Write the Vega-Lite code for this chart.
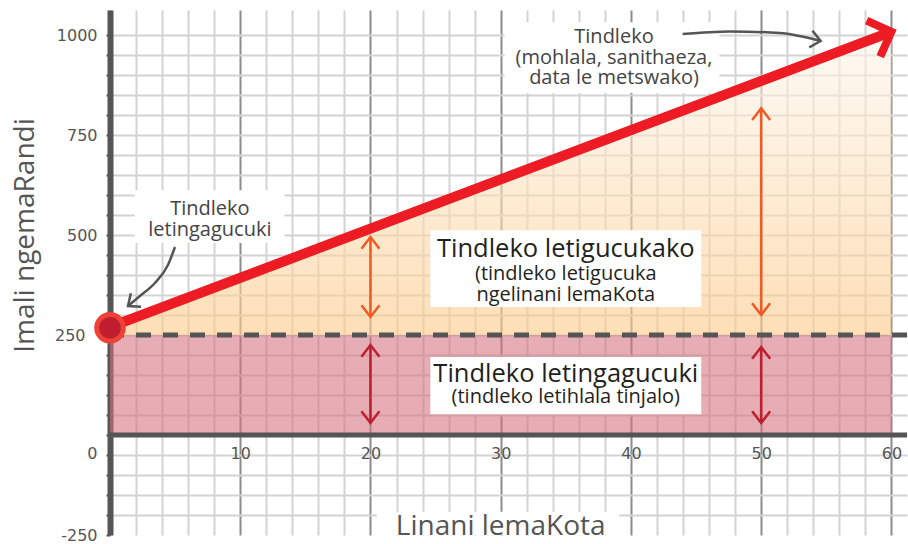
{
  "$schema": "https://vega.github.io/schema/vega-lite/v6.json",
  "width": 797,
  "height": 525,
  "autosize": {"type": "none"},
  "padding": {"left": 110, "top": 10, "right": 1, "bottom": 9},
  "background": "#ffffff",
  "config": {
    "view": {"stroke": null},
    "axis": {"labelOverlap": false, "labelFlush": false, "labelBound": false, "labelFont": "DejaVu Sans", "labelFontSize": 16, "labelColor": "#555555", "gridWidth": 2, "tickCount": 100},
    "axisX": {"domain": false, "ticks": false, "labelAngle": 0},
    "axisY": {"domainColor": "#555555", "domainWidth": 6, "tickColor": "#555555", "tickSize": 4, "tickWidth": 2, "gridColor": "#d3d3d3"}
  },
  "datasets": {
    "fixedBand": [{"from": 0, "to": 60, "base": 0, "fixed": 250}],
    "totalCost": [{"units": 0, "cost": 270}, {"units": 60, "cost": 1008}],
    "boxes": [
      {"x1": 30.3, "x2": 46.8, "y1": 855, "y2": 1032},
      {"x1": 1.9, "x2": 13.4, "y1": 480, "y2": 612},
      {"x1": 24.6, "x2": 45.4, "y1": 320, "y2": 512},
      {"x1": 24.6, "x2": 45.4, "y1": 52, "y2": 195},
      {"x1": 20.5, "x2": 39.1, "y1": -250, "y2": -192}
    ],
    "spans": [
      {"units": 20, "kind": "variable", "top": 495, "bottom": 295},
      {"units": 20, "kind": "fixed", "top": 225, "bottom": 30},
      {"units": 50, "kind": "variable", "top": 817, "bottom": 300},
      {"units": 50, "kind": "fixed", "top": 220, "bottom": 30}
    ],
    "pointers": [
      {"curve": "total", "units": 43.97, "amount": 1002.5},
      {"curve": "total", "units": 47.58, "amount": 1009},
      {"curve": "total", "units": 51.42, "amount": 1005},
      {"curve": "total", "units": 54.57, "amount": 985},
      {"curve": "fixed", "units": 1.38, "amount": 322.5},
      {"curve": "fixed", "units": 2.3, "amount": 347.5},
      {"curve": "fixed", "units": 3.45, "amount": 380},
      {"curve": "fixed", "units": 4.45, "amount": 425},
      {"curve": "fixed", "units": 4.99, "amount": 470}
    ],
    "notes": [
      {"units": 38.7, "amount": 980, "text": ["Tindleko", "(mohlala, sanithaeza,", "data le metswako)"]},
      {"units": 7.67, "amount": 550, "text": ["Tindleko", "letingagucuki"]}
    ],
    "headings": [
      {"units": 35, "amount": 445, "text": "Tindleko letigucukako"},
      {"units": 35, "amount": 132.5, "text": "Tindleko letingagucuki"}
    ],
    "subs": [
      {"units": 35, "amount": 387.5, "text": ["(tindleko letigucuka", "ngelinani lemaKota"]},
      {"units": 35, "amount": 80, "text": "(tindleko letihlala tinjalo)"}
    ],
    "xtitle": [{"units": 30, "amount": -250, "text": "Linani lemaKota"}]
  },
  "layer": [
    {
      "data": {"name": "fixedBand"},
      "mark": {"type": "rect", "fill": "rgba(214,114,126,0.58)"},
      "encoding": {
        "x": {
          "field": "from", "type": "quantitative",
          "scale": {"domain": [0, 61.2], "nice": false, "zero": false},
          "axis": {
            "values": [0, 2, 4, 6, 8, 10, 12, 14, 16, 18, 20, 22, 24, 26, 28, 30, 32, 34, 36, 38, 40, 42, 44, 46, 48, 50, 52, 54, 56, 58, 60],
            "tickCount": 100,
            "labelExpr": "datum.value % 10 === 0 && datum.value > 0 ? datum.value + '' : ''",
            "orient": "bottom", "offset": -100, "domain": false, "ticks": false, "tickSize": 0,
            "labelPadding": 18, "labelBaseline": "middle", "labelAngle": 0,
            "labelFont": "DejaVu Sans", "labelFontSize": 16, "labelColor": "#555555",
            "labelOverlap": false, "labelFlush": false,
            "grid": true,
            "gridColor": {"condition": {"test": "datum.value % 10 === 0", "value": "#8c8c8c"}, "value": "#d3d3d3"},
            "gridWidth": 2,
            "title": null
          }
        },
        "x2": {"field": "to"},
        "y": {
          "field": "base", "type": "quantitative",
          "scale": {"domain": [-250, 1062.5], "nice": false, "zero": false},
          "axis": {
            "values": [-250, -200, -150, -100, -50, 0, 50, 100, 150, 200, 250, 300, 350, 400, 450, 500, 550, 600, 650, 700, 750, 800, 850, 900, 950, 1000],
            "tickCount": 100,
            "labelExpr": "datum.value % 250 === 0 ? datum.value + '' : ''",
            "labelOffset": {"condition": {"test": "datum.value === 0", "value": 18}, "value": 0},
            "labelPadding": {"condition": {"test": "datum.value === 250", "value": 21}, "value": 9},
            "labelFont": "DejaVu Sans", "labelFontSize": 16, "labelColor": "#555555",
            "labelOverlap": false, "labelFlush": false,
            "domainColor": "#555555", "domainWidth": 6,
            "tickColor": "#555555", "tickSize": 4, "tickWidth": 2,
            "grid": true, "gridColor": "#d3d3d3", "gridWidth": 2,
            "gridOpacity": {"condition": {"test": "datum.value === -250", "value": 0}, "value": 1},
            "title": "Imali ngemaRandi",
            "titleFont": "Open Sans", "titleFontSize": 28, "titleFontWeight": "normal", "titleColor": "#555555",
            "titleAngle": -90, "titleX": -77, "titleY": 225, "titleAlign": "center", "titleBaseline": "alphabetic"
          }
        },
        "y2": {"field": "fixed"}
      }
    },
    {
      "data": {"name": "totalCost"},
      "mark": {
        "type": "area",
        "fill": {"gradient": "linear", "x1": 0, "y1": 0, "x2": 0, "y2": 1,
          "stops": [{"offset": 0, "color": "rgba(253,247,238,0.6)"}, {"offset": 1, "color": "rgba(252,203,138,0.62)"}]}
      },
      "encoding": {
        "x": {"field": "units", "type": "quantitative", "scale": {"domain": [0, 61.2], "nice": false, "zero": false}},
        "y": {"field": "cost", "type": "quantitative", "scale": {"domain": [-250, 1062.5], "nice": false, "zero": false}},
        "y2": {"datum": 250}
      }
    },
    {
      "data": {"name": "boxes"},
      "mark": {"type": "rect", "fill": "#ffffff"},
      "encoding": {
        "x": {"field": "x1", "type": "quantitative", "scale": {"domain": [0, 61.2], "nice": false, "zero": false}},
        "x2": {"field": "x2"},
        "y": {"field": "y1", "type": "quantitative", "scale": {"domain": [-250, 1062.5], "nice": false, "zero": false}},
        "y2": {"field": "y2"}
      }
    },
    {
      "data": {"values": [{"amount": 0}]},
      "mark": {"type": "rule", "color": "#555555", "strokeWidth": 5},
      "encoding": {
        "y": {"field": "amount", "type": "quantitative", "scale": {"domain": [-250, 1062.5], "nice": false, "zero": false}}
      }
    },
    {
      "data": {"values": [{"amount": 250}]},
      "mark": {"type": "rule", "color": "#555555", "strokeWidth": 5, "strokeDash": [15, 12]},
      "encoding": {
        "y": {"field": "amount", "type": "quantitative", "scale": {"domain": [-250, 1062.5], "nice": false, "zero": false}}
      }
    },
    {
      "data": {"name": "spans"},
      "mark": {"type": "rule", "strokeWidth": 2.5},
      "encoding": {
        "x": {"field": "units", "type": "quantitative", "scale": {"domain": [0, 61.2], "nice": false, "zero": false}},
        "y": {"field": "top", "type": "quantitative", "scale": {"domain": [-250, 1062.5], "nice": false, "zero": false}},
        "y2": {"field": "bottom"},
        "color": {"field": "kind", "type": "nominal", "scale": {"domain": ["variable", "fixed"], "range": ["#f15a24", "#be1e2d"]}, "legend": null}
      }
    },
    {
      "data": {"name": "spans"},
      "mark": {"type": "point", "shape": "M -1 1.3 L 0 0 L 1 1.3", "filled": false, "size": 324, "strokeWidth": 2.5, "opacity": 1},
      "encoding": {
        "x": {"field": "units", "type": "quantitative", "scale": {"domain": [0, 61.2], "nice": false, "zero": false}},
        "y": {"field": "top", "type": "quantitative", "scale": {"domain": [-250, 1062.5], "nice": false, "zero": false}},
        "color": {"field": "kind", "type": "nominal", "scale": {"domain": ["variable", "fixed"], "range": ["#f15a24", "#be1e2d"]}, "legend": null}
      }
    },
    {
      "data": {"name": "spans"},
      "mark": {"type": "point", "shape": "M -1 -1.3 L 0 0 L 1 -1.3", "filled": false, "size": 324, "strokeWidth": 2.5, "opacity": 1},
      "encoding": {
        "x": {"field": "units", "type": "quantitative", "scale": {"domain": [0, 61.2], "nice": false, "zero": false}},
        "y": {"field": "bottom", "type": "quantitative", "scale": {"domain": [-250, 1062.5], "nice": false, "zero": false}},
        "color": {"field": "kind", "type": "nominal", "scale": {"domain": ["variable", "fixed"], "range": ["#f15a24", "#be1e2d"]}, "legend": null}
      }
    },
    {
      "data": {"name": "pointers"},
      "mark": {"type": "line", "color": "#555555", "strokeWidth": 2.5, "interpolate": "monotone"},
      "encoding": {
        "x": {"field": "units", "type": "quantitative", "scale": {"domain": [0, 61.2], "nice": false, "zero": false}},
        "y": {"field": "amount", "type": "quantitative", "scale": {"domain": [-250, 1062.5], "nice": false, "zero": false}},
        "detail": {"field": "curve", "type": "nominal"}
      }
    },
    {
      "data": {"values": [{"units": 54.57, "amount": 985}]},
      "mark": {"type": "point", "shape": "M -1 -0.85 L 0 0 L -1 0.85", "filled": false, "size": 400, "strokeWidth": 2.5, "color": "#555555", "opacity": 1, "angle": 11},
      "encoding": {
        "x": {"field": "units", "type": "quantitative", "scale": {"domain": [0, 61.2], "nice": false, "zero": false}},
        "y": {"field": "amount", "type": "quantitative", "scale": {"domain": [-250, 1062.5], "nice": false, "zero": false}}
      }
    },
    {
      "data": {"values": [{"units": 1.38, "amount": 322.5}]},
      "mark": {"type": "point", "shape": "M -1 -0.85 L 0 0 L -1 0.85", "filled": false, "size": 400, "strokeWidth": 2.5, "color": "#555555", "opacity": 1, "angle": 143},
      "encoding": {
        "x": {"field": "units", "type": "quantitative", "scale": {"domain": [0, 61.2], "nice": false, "zero": false}},
        "y": {"field": "amount", "type": "quantitative", "scale": {"domain": [-250, 1062.5], "nice": false, "zero": false}}
      }
    },
    {
      "data": {"name": "totalCost"},
      "mark": {"type": "line", "color": "#ed1c24", "strokeWidth": 10, "strokeCap": "butt"},
      "encoding": {
        "x": {"field": "units", "type": "quantitative", "scale": {"domain": [0, 61.2], "nice": false, "zero": false}},
        "y": {"field": "cost", "type": "quantitative", "scale": {"domain": [-250, 1062.5], "nice": false, "zero": false}}
      }
    },
    {
      "data": {"values": [{"units": 60, "cost": 1008}]},
      "mark": {"type": "point", "shape": "M -0.8 -0.8 L 0 0 L -0.8 0.8", "filled": false, "size": 2304, "strokeWidth": 8, "strokeJoin": "miter", "color": "#ed1c24", "opacity": 1, "angle": -20.7},
      "encoding": {
        "x": {"field": "units", "type": "quantitative", "scale": {"domain": [0, 61.2], "nice": false, "zero": false}},
        "y": {"field": "cost", "type": "quantitative", "scale": {"domain": [-250, 1062.5], "nice": false, "zero": false}}
      }
    },
    {
      "data": {"values": [{"units": 0, "cost": 268}]},
      "mark": {"type": "point", "shape": "circle", "filled": true, "fill": "#be1e2d", "stroke": "#ef4136", "strokeWidth": 5, "size": 707, "opacity": 1},
      "encoding": {
        "x": {"field": "units", "type": "quantitative", "scale": {"domain": [0, 61.2], "nice": false, "zero": false}},
        "y": {"field": "cost", "type": "quantitative", "scale": {"domain": [-250, 1062.5], "nice": false, "zero": false}}
      }
    },
    {
      "data": {"name": "notes"},
      "mark": {"type": "text", "font": "Open Sans", "fontSize": 20, "color": "#444444", "align": "center", "baseline": "alphabetic", "lineHeight": 20.5},
      "encoding": {
        "x": {"field": "units", "type": "quantitative", "scale": {"domain": [0, 61.2], "nice": false, "zero": false}},
        "y": {"field": "amount", "type": "quantitative", "scale": {"domain": [-250, 1062.5], "nice": false, "zero": false}},
        "text": {"field": "text"}
      }
    },
    {
      "data": {"name": "headings"},
      "mark": {"type": "text", "font": "Open Sans", "fontSize": 25.5, "color": "#231f20", "align": "center", "baseline": "alphabetic"},
      "encoding": {
        "x": {"field": "units", "type": "quantitative", "scale": {"domain": [0, 61.2], "nice": false, "zero": false}},
        "y": {"field": "amount", "type": "quantitative", "scale": {"domain": [-250, 1062.5], "nice": false, "zero": false}},
        "text": {"field": "text"}
      }
    },
    {
      "data": {"name": "subs"},
      "mark": {"type": "text", "font": "Open Sans", "fontSize": 20, "color": "#231f20", "align": "center", "baseline": "alphabetic", "lineHeight": 20.5},
      "encoding": {
        "x": {"field": "units", "type": "quantitative", "scale": {"domain": [0, 61.2], "nice": false, "zero": false}},
        "y": {"field": "amount", "type": "quantitative", "scale": {"domain": [-250, 1062.5], "nice": false, "zero": false}},
        "text": {"field": "text"}
      }
    },
    {
      "data": {"name": "xtitle"},
      "mark": {"type": "text", "font": "Open Sans", "fontSize": 28, "color": "#555555", "align": "center", "baseline": "alphabetic"},
      "encoding": {
        "x": {"field": "units", "type": "quantitative", "scale": {"domain": [0, 61.2], "nice": false, "zero": false}},
        "y": {"field": "amount", "type": "quantitative", "scale": {"domain": [-250, 1062.5], "nice": false, "zero": false}},
        "text": {"field": "text"}
      }
    }
  ]
}
